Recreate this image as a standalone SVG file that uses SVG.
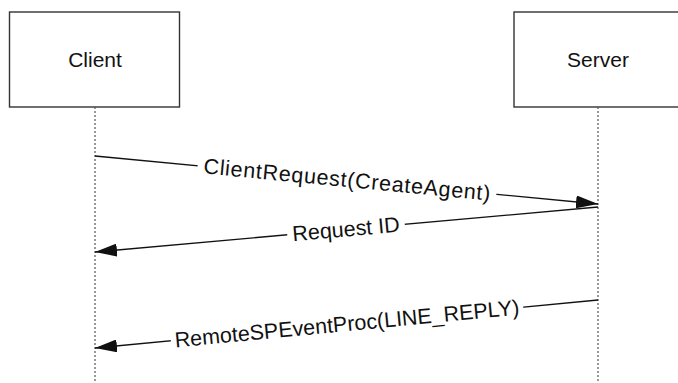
<svg xmlns="http://www.w3.org/2000/svg" width="678" height="383" viewBox="0 0 678 383">
<style>
.box{fill:#fff;stroke:#333;stroke-width:1.4}
.life{stroke:#555;stroke-width:1.2;stroke-dasharray:2 2;fill:none}
.msg{stroke:#111;stroke-width:1.3;fill:none}
.t{font-family:"Liberation Sans",Arial,sans-serif;font-size:21px;fill:#111}
.lbl{font-family:"Liberation Sans",Arial,sans-serif;font-size:21.5px;fill:#111;text-anchor:middle;dominant-baseline:central}
.bg{fill:#fff}
</style>
<defs>
<marker id="ah" viewBox="0 0 22 13" refX="22" refY="6.5" markerWidth="22" markerHeight="13" markerUnits="userSpaceOnUse" orient="auto">
<path d="M0,0 L22,6.5 L0,13 Z" fill="#111"/>
</marker>
</defs>
<rect width="678" height="383" fill="#fff"/>
<g id="client">
<rect class="box" x="9.5" y="12" width="170" height="95"/>
<text class="t" x="95" y="67" text-anchor="middle">Client</text>
<line class="life" x1="95" y1="107" x2="95" y2="383"/>
</g>
<g id="server">
<rect class="box" x="514" y="12" width="180" height="95"/>
<text class="t" x="598" y="67" text-anchor="middle">Server</text>
<line class="life" x1="598" y1="107" x2="598" y2="383"/>
</g>
<g id="connectors">
<line class="msg" x1="95" y1="156" x2="598" y2="204" marker-end="url(#ah)"/>
<g transform="translate(347,180) rotate(5.45)">
<rect class="bg" x="-150" y="-13" width="300" height="26"/>
<text class="lbl" x="0" y="0" textLength="288" lengthAdjust="spacing">ClientRequest(CreateAgent)</text>
</g>
<line class="msg" x1="598" y1="207" x2="95" y2="252" marker-end="url(#ah)"/>
<g transform="translate(346,229.5) rotate(-5.1)">
<rect class="bg" x="-59" y="-13" width="118" height="26"/>
<text class="lbl" x="0" y="0">Request ID</text>
</g>
<line class="msg" x1="598" y1="300" x2="95" y2="348" marker-end="url(#ah)"/>
<g transform="translate(347,324) rotate(-5.45)">
<rect class="bg" x="-177" y="-13" width="354" height="26"/>
<text class="lbl" x="0" y="0">RemoteSPEventProc(LINE_REPLY)</text>
</g>
</g>
</svg>
